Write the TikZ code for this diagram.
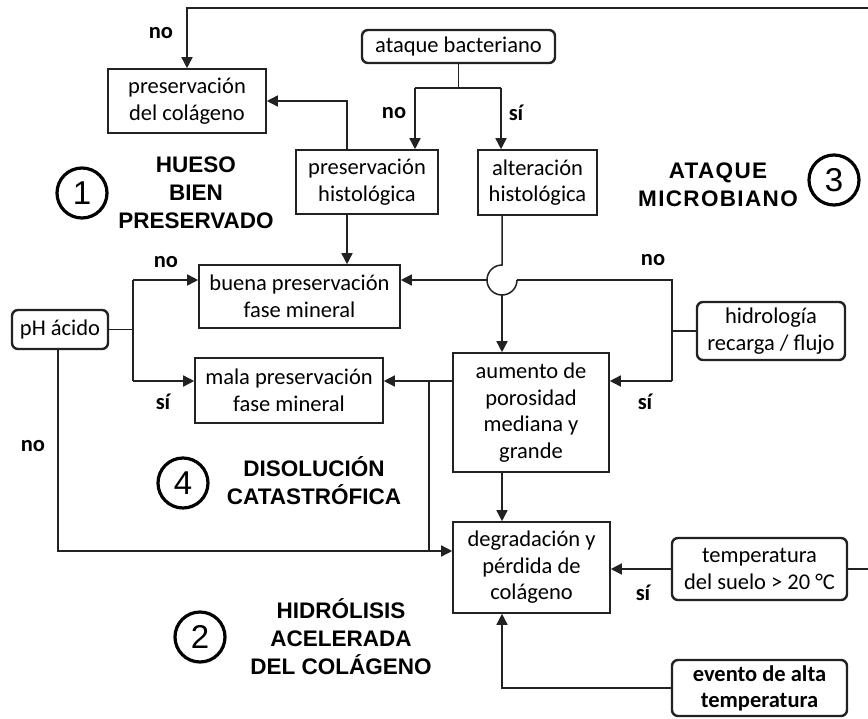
\documentclass[tikz,border=0pt]{standalone}
\usepackage{fontspec}
\setmainfont{Carlito}
\newfontfamily\headfont{Liberation Sans}
\newfontfamily\headfontsp[LetterSpace=6]{Liberation Sans}
\usetikzlibrary{arrows.meta}
\definecolor{ln}{HTML}{222222}
\tikzset{
  box/.style={draw=ln, line width=1.6pt, align=center, inner sep=0pt,
    font=\fontsize{22.5}{26.5}\selectfont},
  rbox/.style={box, rounded corners=6pt, line width=2.4pt},
  wire/.style={draw=ln, line width=1.5pt},
  arr/.style={wire, -{Triangle[length=11pt,width=11pt]}},
  lab/.style={font=\bfseries\fontsize{22.5}{26}\selectfont, inner sep=0pt},
  head/.style={align=center, inner sep=0pt, font=\headfont\bfseries\fontsize{22.5}{28}\selectfont},
  num/.style={circle, draw=black, line width=3.2pt, minimum size=50pt, inner sep=0pt,
    font=\headfont\fontsize{33}{33}\selectfont}
}
\begin{document}
\begin{tikzpicture}[x=1pt,y=-1pt]
\useasboundingbox (0,0) rectangle (868,718);
% boxes
\node[rbox, minimum width=193, minimum height=33] (ataque) at (458.5,46.5) {ataque bacteriano};
\node[box, minimum width=158, minimum height=64] (pcol) at (187,101) {preservación\\del colágeno};
\node[box, minimum width=142, minimum height=64] (phist) at (367,182) {preservación\\histológica};
\node[box, minimum width=119, minimum height=65] (ahist) at (537.5,182.5) {alteración\\histológica};
\node[box, minimum width=201, minimum height=63] (buena) at (299.5,296.5) {buena preservación\\fase mineral};
\node[box, minimum width=188, minimum height=65] (mala) at (289,390.5) {mala preservación\\fase mineral};
\node[rbox, minimum width=96, minimum height=39] (ph) at (60,329.5) {pH ácido};
\node[box, minimum width=156, minimum height=119] (aumento) at (531,412.5) {aumento de\\porosidad\\mediana y\\grande};
\node[rbox, minimum width=148, minimum height=58] (hidro) at (771,331) {hidrología\\recarga / flujo};
\node[box, minimum width=157, minimum height=91] (degr) at (531.5,567.5) {degradación y\\pérdida de\\colágeno};
\node[rbox, minimum width=175, minimum height=62] (temp) at (759.5,569) {temperatura\\del suelo > 20 °C};
\node[rbox, minimum width=175, minimum height=56, font=\bfseries\fontsize{22.5}{26}\selectfont] (evento) at (759.5,688) {evento de alta\\temperatura};
% coordinates
\coordinate (tr) at (872,8);
\coordinate (bl) at (415,88);
\coordinate (br) at (501,88);
\coordinate (j1) at (347,100);
\coordinate (hT) at (502,265);
\coordinate (hL) at (487,280);
\coordinate (hB) at (502,295);
\coordinate (hR) at (517,280);
\coordinate (hn) at (672,280);
\coordinate (hs) at (672,381);
\coordinate (pn) at (133,280);
\coordinate (ps) at (133,381);
\coordinate (mj) at (429,381);
\coordinate (dl) at (58,551);
% connectors
\draw[arr] (temp.east) -| (tr) -| (pcol.north);
\draw[wire] (ataque.south) -- (ataque.south |- bl);
\draw[wire] (bl) -- (br);
\draw[arr] (bl) -- (bl |- phist.north);
\draw[arr] (br) -- (br |- ahist.north);
\draw[arr] (phist.north -| j1) |- (pcol.east);
\draw[arr] (phist.south -| j1) -- (buena.north -| j1);
\draw[wire] (ahist.south -| hT) -- (hT) arc[start angle=270, end angle=0, radius=15];
\draw[arr] (hB) -- (aumento.north -| hB);
\draw[wire] (hidro.west) -- (hidro.west -| hn);
\draw[wire] (hR) -- (hn) -- (hs);
\draw[arr] (hL) -- (buena.east |- hL);
\draw[arr] (hs) -- (aumento.east |- hs);
\draw[wire] (ph.east) -- (ph.east -| pn);
\draw[wire] (pn) -- (ps);
\draw[arr] (pn) -- (buena.west |- pn);
\draw[arr] (ps) -- (mala.west |- ps);
\draw[arr] (aumento.west |- mj) -- (mala.east |- mj);
\draw[wire] (mj) -- (mj |- dl);
\draw[arr] (ph.south -| dl) -- (dl) -- (degr.west |- dl);
\draw[arr] (aumento.south -| hB) -- (degr.north -| hB);
\draw[arr] (temp.west) -- (degr.east |- temp.west);
\draw[arr] (evento.west) -| (degr.south -| hB);
% labels
\node[lab] (l1) at (161,33) {no};
\node[lab] (l2) at (394,113) {no};
\node[lab] (l3) at (516,113) {sí};
\node[lab] (l4) at (166,262) {no};
\node[lab] (l5) at (163,402) {sí};
\node[lab] (l6) at (653,260) {no};
\node[lab] (l7) at (645,402) {sí};
\node[lab] (l8) at (33,446) {no};
\node[lab] (l9) at (643,593) {sí};
% headings
\node[head] (h1) at (196,193) {HUESO\\BIEN\\PRESERVADO};
\node[num] (c1) at (82,193) {1};
\node[head, font=\headfontsp\bfseries\fontsize{22.5}{28}\selectfont] (h3) at (718,185) {ATAQUE\\MICROBIANO};
\node[num] (c3) at (834,180) {3};
\node[head] (h4) at (314,481) {DISOLUCIÓN\\CATASTRÓFICA};
\node[num] (c4) at (183,483) {4};
\node[head] (h2) at (341,637) {HIDRÓLISIS\\ACELERADA\\DEL COLÁGENO};
\node[num] (c2) at (200,637) {2};
\end{tikzpicture}
\end{document}
